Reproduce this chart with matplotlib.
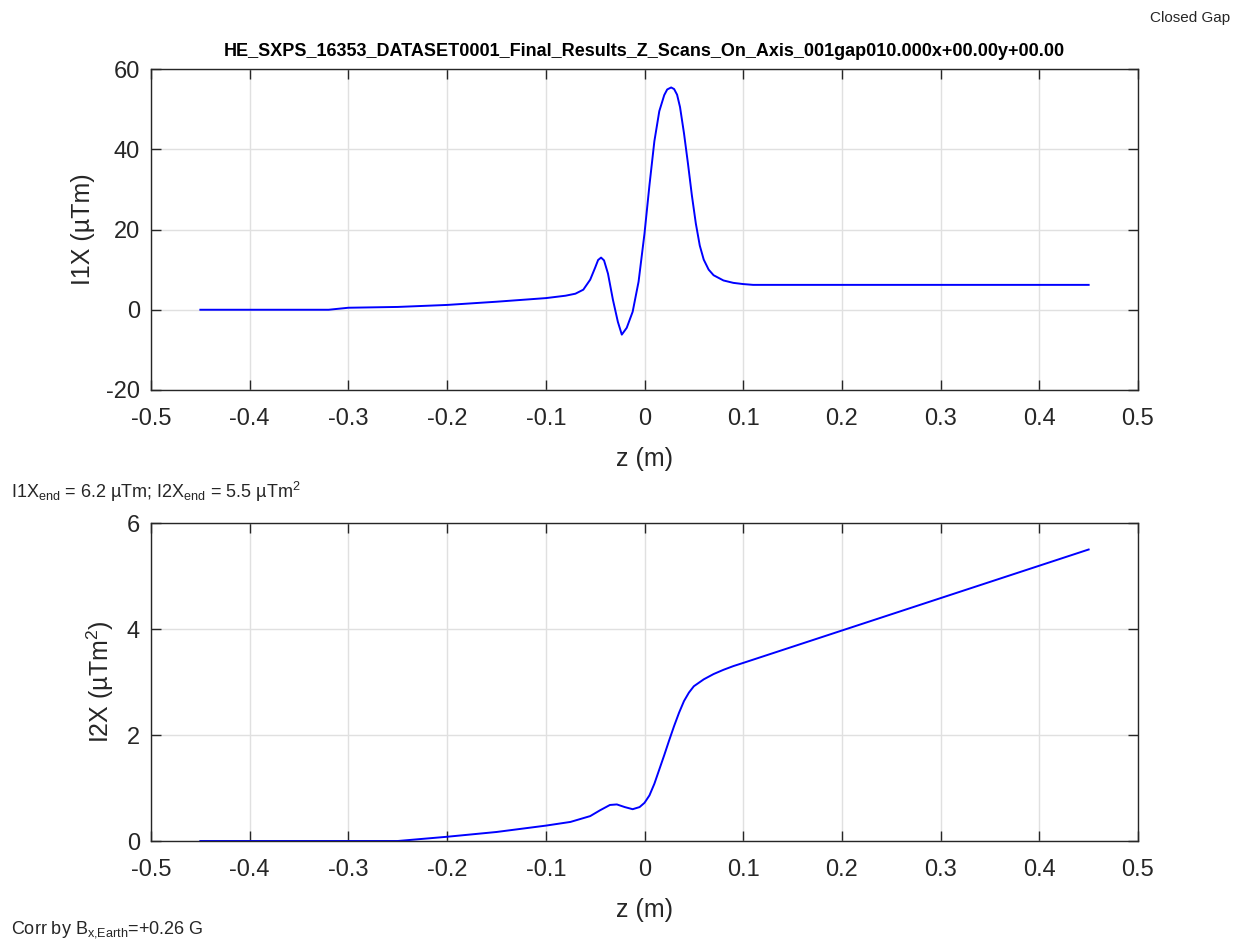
import matplotlib
matplotlib.use("Agg")
import matplotlib.pyplot as plt

plt.rcParams['font.family'] = ['Liberation Sans', 'DejaVu Sans']
plt.rcParams['mathtext.fontset'] = 'custom'
plt.rcParams['mathtext.rm'] = 'Liberation Sans'
plt.rcParams['mathtext.it'] = 'Liberation Sans'
plt.rcParams['axes.unicode_minus'] = False

# ---- data ----
z1 = [-0.45, -0.32, -0.30, -0.25, -0.20, -0.15, -0.10, -0.08, -0.07, -0.062, -0.055,
      -0.05, -0.047, -0.044, -0.041, -0.037, -0.032, -0.027, -0.023, -0.018, -0.012,
      -0.006, 0.0, 0.005, 0.010, 0.015, 0.020, 0.023, 0.027, 0.030, 0.033, 0.036,
      0.040, 0.044, 0.048, 0.052, 0.056, 0.060, 0.065, 0.070, 0.080, 0.090, 0.100,
      0.110, 0.45]
i1x = [0.0, 0.0, 0.5, 0.7, 1.2, 2.0, 2.9, 3.5, 4.0, 5.0, 7.5,
       10.5, 12.4, 13.0, 12.3, 9.0, 2.5, -3.0, -6.2, -4.5, -0.5,
       7.0, 19.0, 31.0, 42.0, 49.5, 53.5, 54.9, 55.4, 55.0, 53.6, 50.5,
       44.0, 36.5, 28.5, 21.5, 16.0, 12.5, 10.0, 8.6, 7.3, 6.7, 6.4,
       6.2, 6.2]

z2 = [-0.45, -0.25, -0.20, -0.15, -0.10, -0.075, -0.055, -0.045, -0.035, -0.028,
      -0.020, -0.012, -0.005, 0.0, 0.005, 0.010, 0.015, 0.020, 0.025, 0.030,
      0.035, 0.040, 0.045, 0.050, 0.060, 0.070, 0.080, 0.090, 0.100, 0.45]
i2x = [0.0, 0.0, 0.08, 0.17, 0.29, 0.36, 0.47, 0.58, 0.68, 0.69,
       0.64, 0.60, 0.64, 0.72, 0.86, 1.08, 1.35, 1.62, 1.90, 2.17,
       2.42, 2.64, 2.80, 2.92, 3.05, 3.15, 3.23, 3.30, 3.36, 5.50]

xticks = [-0.5, -0.4, -0.3, -0.2, -0.1, 0, 0.1, 0.2, 0.3, 0.4, 0.5]
xticklabels = ['-0.5', '-0.4', '-0.3', '-0.2', '-0.1', '0', '0.1', '0.2', '0.3', '0.4', '0.5']
yticks1 = [-20, 0, 20, 40, 60]
yticks2 = [0, 2, 4, 6]

title = 'HE_SXPS_16353_DATASET0001_Final_Results_Z_Scans_On_Axis_001gap010.000x+00.00y+00.00'

W, H = 1258, 950
fig = plt.figure(figsize=(W / 100, H / 100), dpi=100)

ax1 = fig.add_axes([151 / W, 1 - 390 / H, (1138 - 151) / W, (390 - 69) / H])
ax2 = fig.add_axes([151 / W, 1 - 841 / H, (1138 - 151) / W, (841 - 523) / H])

tc = '#262626'
for ax, z, v, yt, ylim, ylab in [
        (ax1, z1, i1x, yticks1, (-20, 60), 'I1X (µTm)'),
        (ax2, z2, i2x, yticks2, (0, 6), 'I2X (µTm$^2$)')]:
    ax.plot(z, v, color='#0000ff', lw=1.4)
    ax.set_xlim(-0.5, 0.5)
    ax.set_ylim(*ylim)
    ax.set_xticks(xticks)
    ax.set_xticklabels(xticklabels)
    ax.set_yticks(yt)
    ax.grid(True, color='#e0e0e0', lw=1.0)
    ax.set_axisbelow(True)
    ax.tick_params(direction='in', length=7, width=1, colors=tc, labelsize=17,
                   top=True, right=True)
    ax.tick_params(axis='x', pad=13)
    ax.tick_params(axis='y', pad=8)
    for s in ax.spines.values():
        s.set_color(tc)
        s.set_linewidth(1.0)
    ax.set_xlabel('z (m)', fontsize=18, color=tc, labelpad=12)
    ax.set_ylabel(ylab, fontsize=18, color=tc, labelpad=8)

ax1.set_title(title, fontsize=13, fontweight='bold', pad=9)

fig.text(1230 / W, 1 - 18 / H, 'Closed Gap', fontsize=11, ha='right', va='center', color=tc)
fig.text(11 / W, 1 - 492 / H,
         'I1X$_{\\rm end}$ = 6.2 µTm; I2X$_{\\rm end}$ = 5.5 µTm$^2$',
         fontsize=13, ha='left', va='center', color=tc)
fig.text(11 / W, 1 - 930 / H, 'Corr by B$_{\\rm x{,}Earth}$=+0.26 G',
         fontsize=13, ha='left', va='center', color=tc)

fig.savefig('out.png', dpi=100)
